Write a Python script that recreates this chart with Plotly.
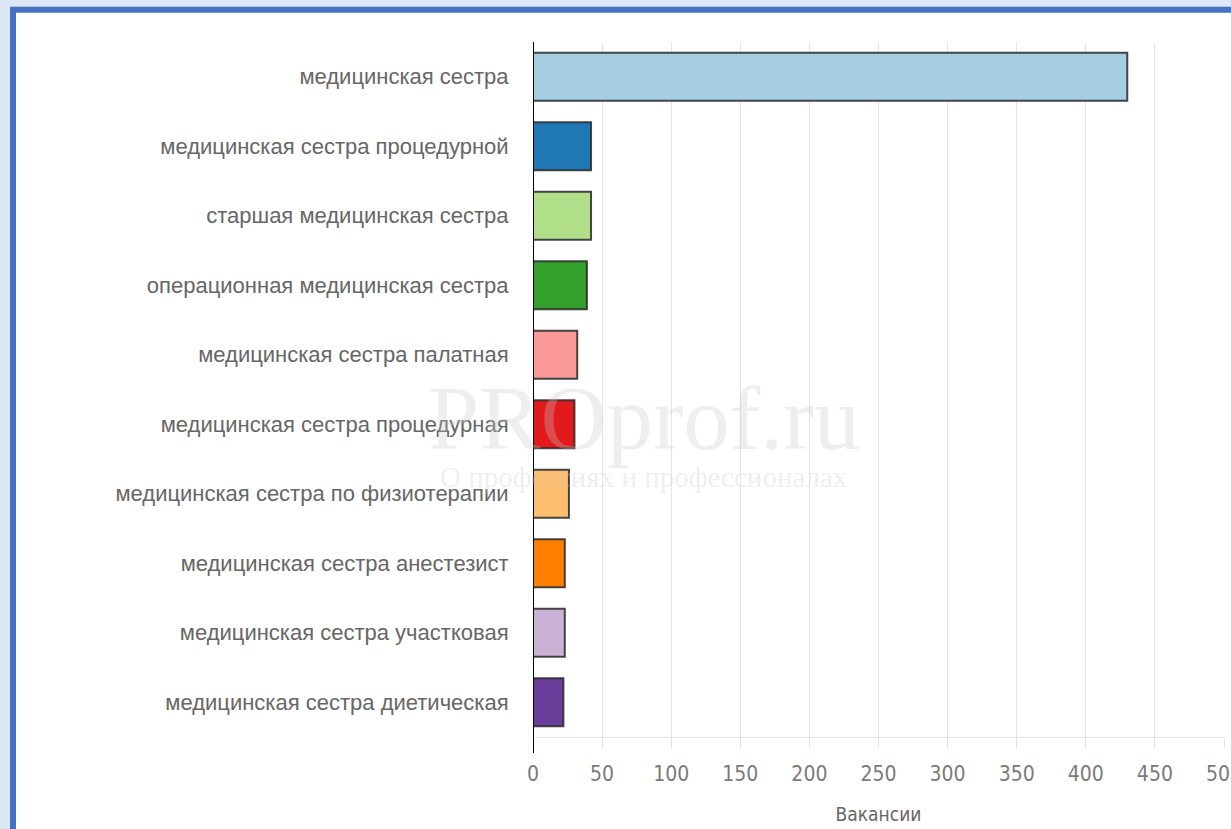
import plotly.graph_objects as go

categories = [
    "медицинская сестра",
    "медицинская сестра процедурной",
    "старшая медицинская сестра",
    "операционная медицинская сестра",
    "медицинская сестра палатная",
    "медицинская сестра процедурная",
    "медицинская сестра по физиотерапии",
    "медицинская сестра анестезист",
    "медицинская сестра участковая",
    "медицинская сестра диетическая",
]
vacancies = [430, 42, 42, 39, 32, 30, 26, 23, 23, 22]
bar_colors = ["#a6cee3", "#1f78b4", "#b2df8a", "#33a02c", "#fb9a99",
              "#e31a1c", "#fdbf6f", "#ff7f00", "#cab2d6", "#6a3d9a"]
x_ticks = [0, 50, 100, 150, 200, 250, 300, 350, 400, 450, 500]
x_title = "Вакансии"
watermark = "PROprof.ru"
watermark_sub = "О профессиях и профессионалах"

W, H = 1231, 829
L, R, T, B = 533, 7, 42, 92
pw, ph = W - L - R, H - T - B

def px(x):
    return (x - L) / pw

def py(y):
    return (H - B - y) / ph

NARROW = "Liberation Sans Narrow, DejaVu Sans Condensed, Arial Narrow, sans-serif"

fig = go.Figure(go.Bar(
    x=vacancies, y=categories, orientation="h",
    marker=dict(color=bar_colors, line=dict(color="rgba(40,40,40,0.85)", width=2)),
))

fig.update_layout(
    width=W, height=H,
    margin=dict(l=L, r=R, t=T, b=B, autoexpand=False),
    template="none",
    paper_bgcolor="#dce8f5",
    plot_bgcolor="rgba(0,0,0,0)",
    bargap=0.31,
    showlegend=False,
    font=dict(family="Liberation Sans, Arial, sans-serif", color="#666666"),
    xaxis=dict(
        range=[0, 500], tickvals=x_ticks, automargin=False,
        showgrid=True, gridcolor="#e6e6e6", gridwidth=1,
        zeroline=False, showline=True, linecolor="#e3e3e3", linewidth=1,
        ticks="outside", ticklen=10, tickcolor="#e3e3e3",
        ticklabelstandoff=8, ticklabeloverflow="allow",
        tickfont=dict(family=NARROW, size=21, color="#7a7a7a"),
        title=dict(text=x_title, font=dict(family=NARROW, size=19, color="#666666"),
                   standoff=22),
    ),
    yaxis=dict(
        autorange="reversed", automargin=False,
        showgrid=False, zeroline=False, showline=False,
        ticks="outside", ticklen=19, tickcolor="rgba(0,0,0,0)",
        tickfont=dict(size=22, color="#666666"),
    ),
    shapes=[
        dict(type="rect", xref="paper", yref="paper", layer="below",
             x0=px(13), x1=px(1245), y0=py(850), y1=py(9.7),
             fillcolor="white", line=dict(color="#4472c4", width=6)),
        dict(type="line", xref="x", yref="paper", x0=0, x1=0,
             y0=py(753), y1=1, line=dict(color="black", width=2)),
    ],
    annotations=[
        dict(text=watermark, xref="paper", yref="paper", x=px(644), y=py(418),
             xanchor="center", yanchor="middle", showarrow=False,
             font=dict(family="Liberation Serif, serif", size=92,
                       color="rgba(200,200,200,0.3)")),
        dict(text=watermark_sub, xref="paper", yref="paper", x=px(644), y=py(477),
             xanchor="center", yanchor="middle", showarrow=False,
             font=dict(family="Liberation Serif, serif", size=29,
                       color="rgba(200,200,200,0.3)")),
    ],
)

fig.write_html("out.html", config={"displayModeBar": False},
               post_script="document.body.style.margin='0px';")
